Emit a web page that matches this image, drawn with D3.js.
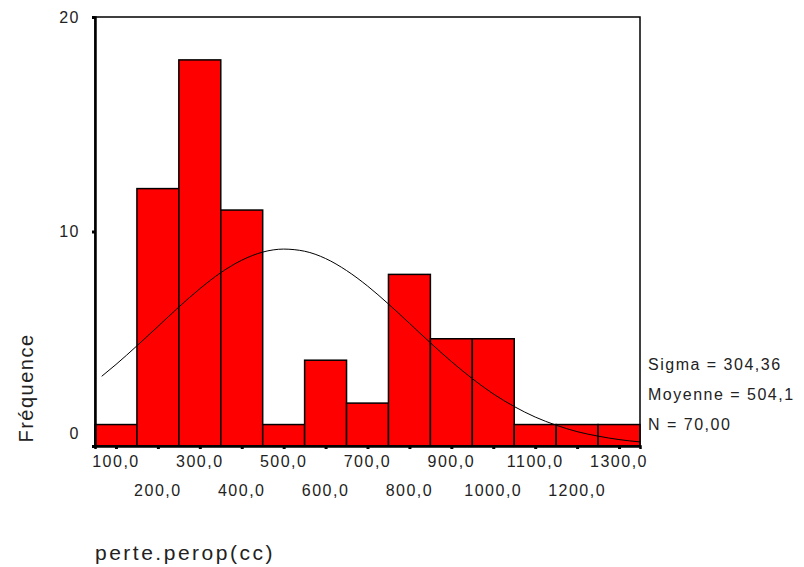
<!DOCTYPE html>
<html>
<head>
<meta charset="utf-8">
<script src="https://cdn.jsdelivr.net/npm/d3@7"></script>
<style>
  body { margin: 0; background: #fff; }
  text { font-family: "Liberation Sans", Arial, sans-serif; fill: #222; letter-spacing: 1.5px; }
</style>
</head>
<body>
<div id="chart"></div>
<script>
// histogram bins (centres) and counts
const binCenters = [100, 200, 300, 400, 500, 600, 700, 800, 900, 1000, 1100, 1200, 1300];
const counts = [1, 12, 18, 11, 1, 4, 2, 8, 5, 5, 1, 1, 1];
const binWidth = 100;

// normal curve
const curveX = [66, 100, 150, 200, 250, 300, 350, 400, 450, 500, 550, 600, 650, 700, 750, 800, 850, 900, 950, 1000, 1050, 1100, 1150, 1200, 1250, 1300, 1350];
const curveY = [3.25, 3.80, 4.67, 5.57, 6.48, 7.33, 8.08, 8.66, 9.04, 9.18, 9.08, 8.74, 8.18, 7.46, 6.62, 5.72, 4.81, 3.94, 3.14, 2.43, 1.84, 1.35, 0.97, 0.67, 0.46, 0.30, 0.19];

const yTicks = [0, 10, 20];
const xTickLabels = ["100,0", "200,0", "300,0", "400,0", "500,0", "600,0", "700,0", "800,0", "900,0", "1000,0", "1100,0", "1200,0", "1300,0"];
const statsLines = ["Sigma = 304,36", "Moyenne = 504,1", "N = 70,00"];

const W = 804, H = 567;
const margin = { top: 17, right: 164, bottom: 121, left: 95 };
const width = W - margin.left - margin.right,
    height = H - margin.top - margin.bottom;

const svg = d3.select("#chart").append("svg")
    .attr("width", W)
    .attr("height", H);

const g = svg.append("g")
    .attr("transform", "translate(" + margin.left + "," + margin.top + ")");

const x = d3.scaleLinear().domain([50, 1350]).range([0, width]);
const y = d3.scaleLinear().domain([0, 20]).range([height, 0]);

// bars
g.selectAll("rect.bar")
    .data(binCenters)
    .enter().append("rect")
    .attr("class", "bar")
    .attr("x", (d) => x(d - binWidth / 2))
    .attr("width", (d) => x(d + binWidth / 2) - x(d - binWidth / 2))
    .attr("y", (d, i) => y(counts[i]))
    .attr("height", (d, i) => y(0) - y(counts[i]))
    .attr("fill", "#ff0000")
    .attr("stroke", "#000")
    .attr("stroke-width", 1.5);

// normal curve
g.append("path")
    .datum(curveX.map((v, i) => [v, curveY[i]]))
    .attr("fill", "none")
    .attr("stroke", "#000")
    .attr("stroke-width", 1)
    .attr("d", d3.line()
        .x((d) => x(d[0]))
        .y((d) => y(d[1]))
        .curve(d3.curveMonotoneX));

// frame
g.append("rect")
    .attr("x", 0).attr("y", 0)
    .attr("width", width).attr("height", height)
    .attr("fill", "none")
    .attr("stroke", "#000")
    .attr("stroke-width", 1.5);

// y axis
const yAxis = d3.axisLeft(y).tickValues(yTicks).tickSize(3).tickFormat("");
const ya = g.append("g").call(yAxis);
ya.select(".domain").attr("stroke-width", 2.5);
ya.selectAll(".tick line").attr("stroke-width", 3);

g.selectAll("text.ylab")
    .data(yTicks)
    .enter().append("text")
    .attr("class", "ylab")
    .attr("x", -15)
    .attr("y", (d) => d === 0 ? y(d) - 13 : y(d))
    .attr("dy", "0.35em")
    .attr("text-anchor", "end")
    .style("font-size", "16px")
    .text((d) => d);

// x axis
const xAxis = d3.axisBottom(x).tickValues(binCenters).tickSize(3).tickFormat("");
const xa = g.append("g").attr("transform", "translate(0," + height + ")").call(xAxis);
xa.select(".domain").attr("stroke-width", 2.5);
xa.selectAll(".tick line").attr("stroke-width", 3);

g.selectAll("text.xlab")
    .data(binCenters)
    .enter().append("text")
    .attr("class", "xlab")
    .attr("x", (d) => x(d))
    .attr("y", (d, i) => height + (i % 2 === 0 ? 15 : 44))
    .attr("dy", "0.35em")
    .attr("text-anchor", "middle")
    .style("font-size", "16px")
    .text((d, i) => xTickLabels[i]);

// axis titles
svg.append("text")
    .attr("transform", "translate(33,388) rotate(-90)")
    .attr("text-anchor", "middle")
    .style("font-size", "20px")
    .text("Fréquence");

svg.append("text")
    .attr("x", 95)
    .attr("y", 560)
    .style("font-size", "21px")
    .style("letter-spacing", "2.5px")
    .text("perte.perop(cc)");

// stats
svg.selectAll("text.stat")
    .data(statsLines)
    .enter().append("text")
    .attr("class", "stat")
    .attr("x", 648)
    .attr("y", (d, i) => 364 + i * 30)
    .attr("dy", "0.35em")
    .style("font-size", "16px")
    .text((d) => d);
</script>
</body>
</html>
